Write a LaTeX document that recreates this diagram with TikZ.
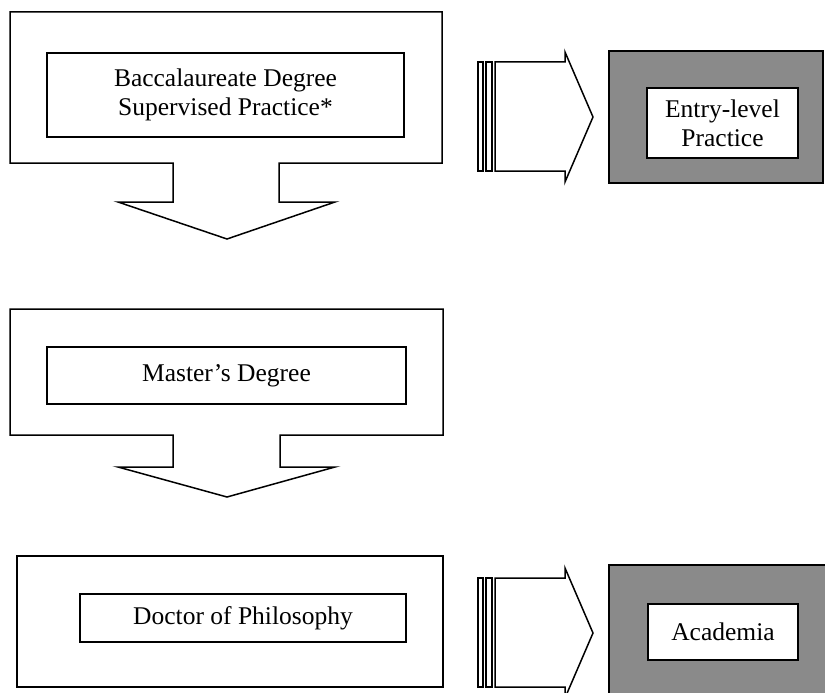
\documentclass[tikz,border=0pt]{standalone}
\usepackage{fontspec}
\setmainfont{Liberation Serif}
\usepackage{tikz}
\usetikzlibrary{positioning}
\definecolor{shadegray}{RGB}{138,138,138}

\begin{document}
\begin{tikzpicture}[
  x=1pt, y=-1pt,
  every node/.style={font=\fontsize{25.5}{29}\selectfont},
  outline/.style={draw, line width=1.5pt, fill=white},
  stagebox/.style={draw, line width=1.5pt, fill=white, align=center,
                   inner sep=0pt},
  shadebox/.style={draw, line width=1.5pt, fill=shadegray},
  barline/.style={draw, line width=1.1pt, fill=white}
]
\useasboundingbox (0,0) rectangle (825,693);

% callout shapes with down arrows
\path[outline] (10,12) -- (442,12) -- (442,163) -- (279,163) -- (279,202)
  -- (335,202) -- (227,239) -- (118,202) -- (173,202) -- (173,163)
  -- (10,163) -- cycle;
\path[outline] (10,309) -- (443,309) -- (443,435) -- (280,435) -- (280,467)
  -- (335,467) -- (227,497) -- (118,467) -- (173,467) -- (173,435)
  -- (10,435) -- cycle;
\path[outline] (17,556) rectangle (443,687);

% stage boxes
\node[stagebox, minimum width=357pt, minimum height=84pt] (bacc) at (225.5,95)
  {Baccalaureate Degree\\Supervised Practice*};
\node[stagebox, minimum width=359pt, minimum height=57pt] (master) at (226.5,375.5)
  {Master’s Degree};
\node[stagebox, minimum width=326pt, minimum height=48pt] (phd) at (243,618)
  {Doctor of Philosophy};

% right block arrows
\foreach \yy in {0,516}{
  \path[barline] (478,62+\yy) rectangle (483,171+\yy);
  \path[barline] (486,62+\yy) rectangle (492,171+\yy);
  \path[outline] (495,62+\yy) -- (565,62+\yy) -- (565,52+\yy) -- (593,117+\yy)
    -- (565,182+\yy) -- (565,171+\yy) -- (495,171+\yy) -- cycle;
}

% outcome panels
\path[shadebox] (609,51) rectangle (823,183);
\path[shadebox] (609,565) rectangle (826,700);
\node[stagebox, minimum width=151pt, minimum height=70pt] (entry) at (722.5,123)
  {Entry-level\\Practice};
\node[stagebox, minimum width=150pt, minimum height=56pt] (acad) at (723,632)
  {Academia};
\end{tikzpicture}
\end{document}
